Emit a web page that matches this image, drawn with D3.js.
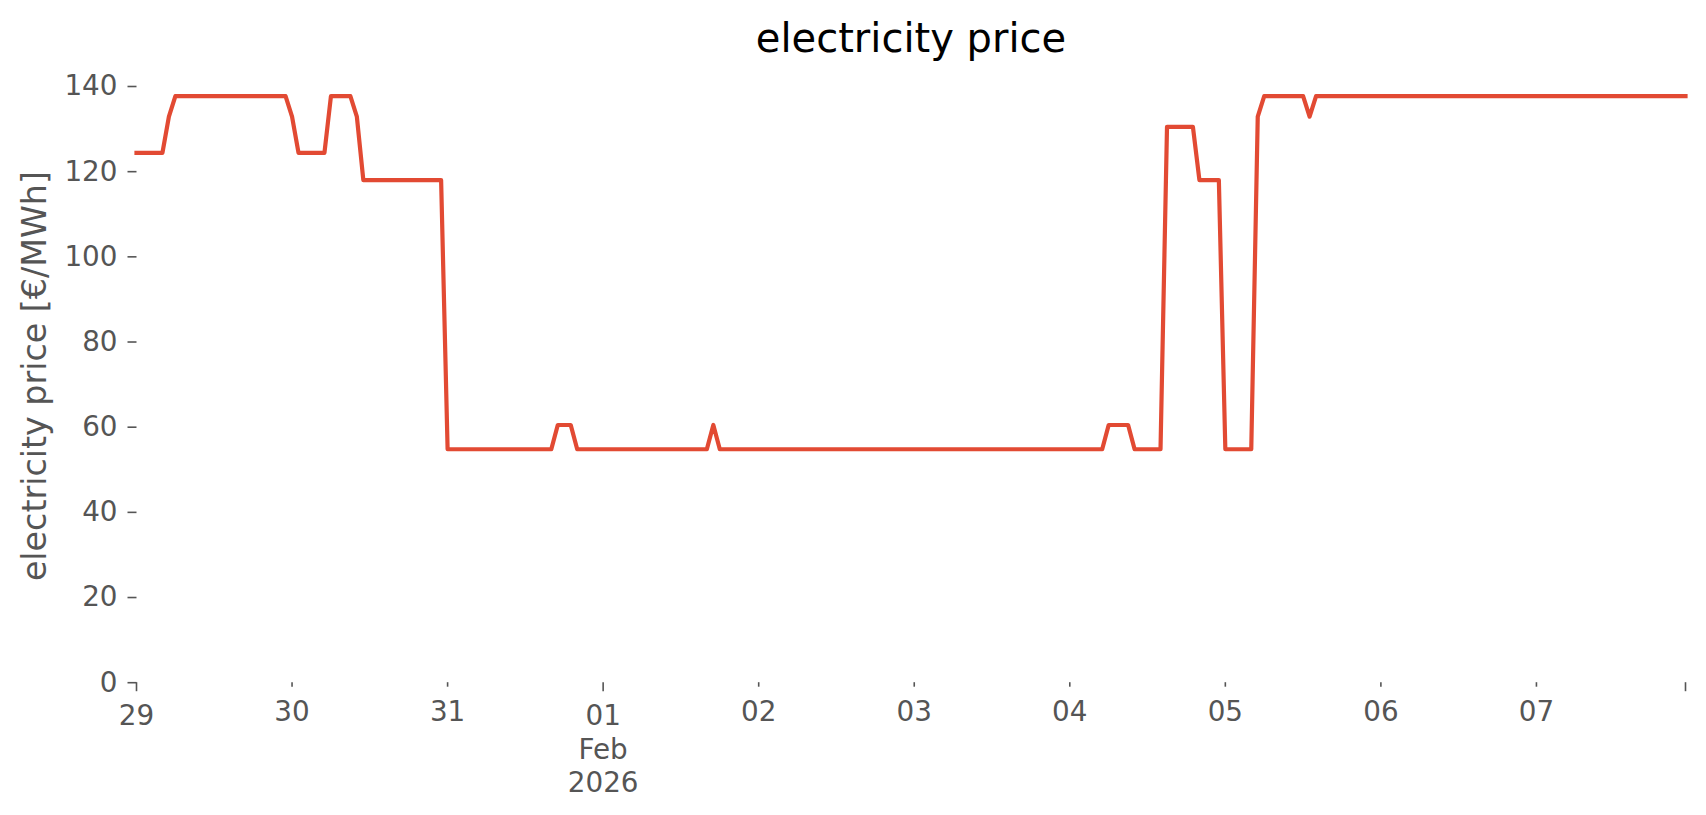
<!DOCTYPE html>
<html>
<head>
<meta charset="utf-8">
<script src="https://cdn.jsdelivr.net/npm/d3@7"></script>
<style>
    body { margin: 0; background: #ffffff; }
    text { font-family: "DejaVu Sans", sans-serif; }
</style>
</head>
<body>
<svg id="chart" width="1706" height="815"></svg>
<script>
//Hourly day-ahead price, one array of 24 values per day (€/MWh)
const DAYS = ["2026-01-29", "2026-01-30", "2026-01-31", "2026-02-01", "2026-02-02",
	      "2026-02-03", "2026-02-04", "2026-02-05", "2026-02-06", "2026-02-07"];

const PRICE_JAN29 = [124.3, 124.3, 124.3, 124.3, 124.3, 132.8, 137.6, 137.6, 137.6, 137.6, 137.6, 137.6,
		     137.6, 137.6, 137.6, 137.6, 137.6, 137.6, 137.6, 137.6, 137.6, 137.6, 137.6, 137.6];
const PRICE_JAN30 = [132.8, 124.3, 124.3, 124.3, 124.3, 124.3, 137.6, 137.6, 137.6, 137.6, 132.8, 117.9,
		     117.9, 117.9, 117.9, 117.9, 117.9, 117.9, 117.9, 117.9, 117.9, 117.9, 117.9, 117.9];
const PRICE_JAN31 = [54.7, 54.7, 54.7, 54.7, 54.7, 54.7, 54.7, 54.7, 54.7, 54.7, 54.7, 54.7,
		     54.7, 54.7, 54.7, 54.7, 54.7, 60.4, 60.4, 60.4, 54.7, 54.7, 54.7, 54.7];
const PRICE_FEB01 = [54.7, 54.7, 54.7, 54.7, 54.7, 54.7, 54.7, 54.7, 54.7, 54.7, 54.7, 54.7,
		     54.7, 54.7, 54.7, 54.7, 54.7, 60.4, 54.7, 54.7, 54.7, 54.7, 54.7, 54.7];
const PRICE_FEB02 = [54.7, 54.7, 54.7, 54.7, 54.7, 54.7, 54.7, 54.7, 54.7, 54.7, 54.7, 54.7,
		     54.7, 54.7, 54.7, 54.7, 54.7, 54.7, 54.7, 54.7, 54.7, 54.7, 54.7, 54.7];
const PRICE_FEB03 = [54.7, 54.7, 54.7, 54.7, 54.7, 54.7, 54.7, 54.7, 54.7, 54.7, 54.7, 54.7,
		     54.7, 54.7, 54.7, 54.7, 54.7, 54.7, 54.7, 54.7, 54.7, 54.7, 54.7, 54.7];
const PRICE_FEB04 = [54.7, 54.7, 54.7, 54.7, 54.7, 54.7, 60.4, 60.4, 60.4, 60.4, 54.7, 54.7,
		     54.7, 54.7, 54.7, 130.4, 130.4, 130.4, 130.4, 130.4, 117.9, 117.9, 117.9, 117.9];
const PRICE_FEB05 = [54.7, 54.7, 54.7, 54.7, 54.7, 132.8, 137.6, 137.6, 137.6, 137.6, 137.6, 137.6,
		     137.6, 132.8, 137.6, 137.6, 137.6, 137.6, 137.6, 137.6, 137.6, 137.6, 137.6, 137.6];
const PRICE_FEB06 = [137.6, 137.6, 137.6, 137.6, 137.6, 137.6, 137.6, 137.6, 137.6, 137.6, 137.6, 137.6,
		     137.6, 137.6, 137.6, 137.6, 137.6, 137.6, 137.6, 137.6, 137.6, 137.6, 137.6, 137.6];
const PRICE_FEB07 = [137.6, 137.6, 137.6, 137.6, 137.6, 137.6, 137.6, 137.6, 137.6, 137.6, 137.6, 137.6,
		     137.6, 137.6, 137.6, 137.6, 137.6, 137.6, 137.6, 137.6, 137.6, 137.6, 137.6, 137.6];

const PRICES = [PRICE_JAN29, PRICE_JAN30, PRICE_JAN31, PRICE_FEB01, PRICE_FEB02,
		PRICE_FEB03, PRICE_FEB04, PRICE_FEB05, PRICE_FEB06, PRICE_FEB07];

const Y_TICKS = [0, 20, 40, 60, 80, 100, 120, 140];
const MAJOR_DAYS = ["2026-01-29", "2026-02-01"]; //longer ticks
const TITLE = "electricity price";
const Y_LABEL = "electricity price [€/MWh]";

//Flatten into hourly points
let data = [];
DAYS.forEach((day, i) => {
    PRICES[i].forEach((v, h) => {
	data.push({t: new Date(day + "T00:00:00Z").getTime() + h * 3600e3, v: v});
    });
});

const svg = d3.select("#chart");
const plotLeft = 136.5, plotRight = 1685.5, plotBottom = 682.2, plotTop = 86;
const TEXT_GREY = "#555555";

let x = d3.scaleUtc()
    .domain(d3.extent(data, d => d.t))
    .range([plotLeft, plotRight]);

let y = d3.scaleLinear()
    .domain([0, 140])
    .range([plotBottom, plotTop]);

//Title
svg.append("text")
    .attr("x", (plotLeft + plotRight) / 2)
    .attr("y", 52)
    .attr("text-anchor", "middle")
    .style("font-size", "40px")
    .style("fill", "#000000")
    .text(TITLE);

//Y axis label
svg.append("text")
    .attr("transform", "translate(46," + ((plotTop + plotBottom) / 2 - 8) + ") rotate(-90)")
    .attr("text-anchor", "middle")
    .style("font-size", "33.3px")
    .style("fill", TEXT_GREY)
    .text(Y_LABEL);

//Y axis (no spine)
let yAxis = svg.append("g")
    .attr("transform", "translate(" + plotLeft + ",0)")
    .call(d3.axisLeft(y).tickValues(Y_TICKS).tickSize(9).tickPadding(10).tickFormat(d3.format("d")));
yAxis.select(".domain").remove();
yAxis.selectAll(".tick line").attr("stroke", TEXT_GREY).attr("stroke-width", 1.6);
yAxis.selectAll(".tick text")
    .style("font-size", "27.8px")
    .style("font-family", "DejaVu Sans")
    .style("fill", TEXT_GREY);

//X axis: daily ticks plus a tick at the last sample
let dayTicks = DAYS.map(d => new Date(d + "T00:00:00Z"));
let endTick = new Date(x.domain()[1]);
let xTicks = dayTicks.concat([endTick]);
let isMajor = d => d === endTick || MAJOR_DAYS.includes(d3.utcFormat("%Y-%m-%d")(d));

let xg = svg.append("g").attr("class", "x-axis");
let xt = xg.selectAll("g.tick")
    .data(xTicks)
    .enter().append("g")
    .attr("class", "tick")
    .attr("transform", d => "translate(" + x(d) + "," + plotBottom + ")");

xt.append("line")
    .attr("y2", d => isMajor(d) ? 9 : 4.5)
    .attr("stroke", TEXT_GREY)
    .attr("stroke-width", 1.6);

xt.filter(d => d !== endTick).append("text")
    .attr("text-anchor", "middle")
    .style("font-size", "27.8px")
    .style("fill", TEXT_GREY)
    .each(function(d) {
	let t = d3.select(this);
	let base = isMajor(d) ? 43 : 39;
	let lines = [d3.utcFormat("%d")(d)];
	if (d3.utcFormat("%m-%d")(d) === "02-01") lines.push(d3.utcFormat("%b")(d), d3.utcFormat("%Y")(d));
	lines.forEach((s, i) => {
	    t.append("tspan").attr("x", 0).attr("y", base + i * 33.4).text(s);
	});
    });

//Price line
let line = d3.line()
    .x(d => x(d.t))
    .y(d => y(d.v));

svg.append("path")
    .datum(data)
    .attr("fill", "none")
    .attr("stroke", "#E24A33")
    .attr("stroke-width", 4.2)
    .attr("stroke-linejoin", "round")
    .attr("stroke-linecap", "square")
    .attr("d", line);
</script>
</body>
</html>
